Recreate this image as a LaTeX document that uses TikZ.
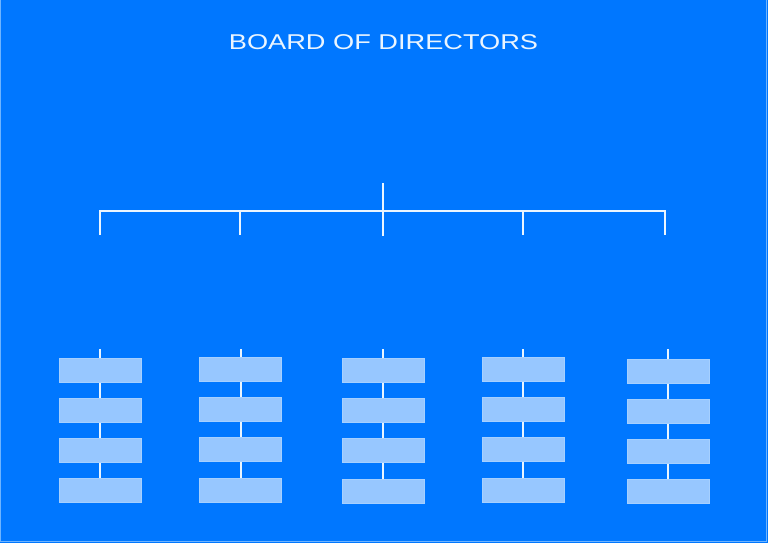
\documentclass[tikz,border=0pt]{standalone}
\usepackage{fontspec}
\newfontfamily\titlefont[FakeStretch=1.27]{Liberation Sans}
\usetikzlibrary{backgrounds}
\pgfdeclarelayer{bg}
\pgfsetlayers{bg,background,main}
\definecolor{bgblue}{HTML}{0077FF}
\definecolor{edgeblue}{HTML}{6EB4FF}
\definecolor{boxblue}{HTML}{97C7FF}
\definecolor{boxedge}{HTML}{A6D0FF}
\definecolor{linew}{HTML}{EAF5FF}
\tikzset{
  posbox/.style={rectangle, minimum width=82pt, minimum height=24pt, inner sep=0pt, fill=boxblue, draw=boxedge, line width=0.6pt},
  wire/.style={draw=linew, line width=2pt},
  titletext/.style={text=linew, font=\titlefont\fontsize{21.4}{24}\selectfont, inner sep=0pt}
}
\begin{document}
\begin{tikzpicture}[x=1pt,y=-1pt]
\useasboundingbox (0,0) rectangle (768,543);
\begin{pgfonlayer}{bg}
\fill[bgblue] (0,0) rectangle (768,543);
\draw[edgeblue, line width=1pt] (0.6,0) -- (0.6,541.6) -- (766.4,541.6) -- (766.4,0);
\end{pgfonlayer}
\node[titletext] (title) at (383.5,42.5) {BOARD OF DIRECTORS};
% top tree
\coordinate (top) at (383,183);
\coordinate (d3) at (383,236);
\foreach \i/\x in {1/100,2/240,3/383,4/523,5/665} {
  \coordinate (h\i) at (\x,211);
}
\foreach \i/\x in {1/100,2/240,4/523,5/665} {
  \coordinate (d\i) at (\x,235);
}
\draw[wire] (top) -- (d3);
\draw[wire] (d1) -- (h1) -- (h5) -- (d5);
\draw[wire] (h2) -- (d2);
\draw[wire] (h4) -- (d4);
% columns
\foreach \c/\x/\o in {1/100.3/0,2/240.7/-0.6,3/383.2/0.7,4/522.8/-0.4,5/667.8/0.8} {
  \coordinate (t\c) at (\x,349);
  \foreach \r/\y in {1/370,2/410,3/450,4/490.5} {
    \node[posbox] (b\c\r) at (\x,\y+\o) {};
  }
  \begin{pgfonlayer}{background}
  \draw[wire] (t\c) -- (b\c1.center) -- (b\c2.center) -- (b\c3.center) -- (b\c4.center);
  \end{pgfonlayer}
}
\end{tikzpicture}
\end{document}
